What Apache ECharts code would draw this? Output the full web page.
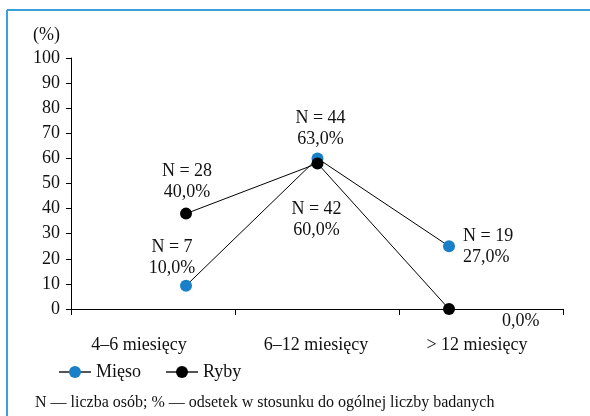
<!DOCTYPE html>
<html>
<head>
<meta charset="utf-8">
<script src="https://cdn.jsdelivr.net/npm/echarts@6/dist/echarts.min.js"></script>
<style>
html,body{margin:0;padding:0;background:#fff;}
#c{width:590px;height:416px;}
</style>
</head>
<body>
<div id="c"></div>
<script>
const categories = ['4–6 miesięcy', '6–12 miesięcy', '> 12 miesięcy'];
const yTicks = [0, 10, 20, 30, 40, 50, 60, 70, 80, 90, 100];
const miesoValues = [9.3, 60, 25];
const rybyValues = [38, 58, 0];
const miesoN = [7, 44, 19];
const miesoPct = ['10,0%', '63,0%', '27,0%'];
const rybyN = [28, 42, null];
const rybyPct = ['40,0%', '60,0%', '0,0%'];

const FONT = 'Liberation Serif';
const TXT = '#111';

function lab(n, p) { return n === null ? p : 'N = ' + n + '\n' + p; }

const miesoLabelStyles = [
  { position: 'top', distance: 1, offset: [-14, 0] },
  { position: 'top', distance: 3, offset: [3, 0] },
  { position: 'right', distance: 8, offset: [0, 1] }
];
const rybyLabelStyles = [
  { position: 'top', distance: 5, offset: [1, 0] },
  { position: 'bottom', distance: 29, offset: [-1, 0] },
  { position: 'right', distance: 5, offset: [42, 12] }
];

function build(values, ns, pcts, styles) {
  return values.map((v, i) => ({
    value: v,
    label: Object.assign({
      show: true,
      formatter: lab(ns[i], pcts[i]),
      fontFamily: FONT, fontSize: 18, lineHeight: 21, color: TXT,
      align: styles[i].position === 'right' ? 'left' : 'center'
    }, styles[i])
  }));
}

const chart = echarts.init(document.getElementById('c'), null, { renderer: 'canvas' });
chart.setOption({
  animation: false,
  backgroundColor: '#fff',
  textStyle: { fontFamily: FONT },
  grid: [
    { left: 71, right: 27, top: 58, bottom: 107 },
    { left: 186, width: 263, top: 58, bottom: 107 }
  ],
  xAxis: [
    {
      type: 'category', gridIndex: 0, data: categories, boundaryGap: true,
      axisLine: { lineStyle: { color: '#000', width: 1 } },
      axisTick: { show: true, length: 6, alignWithLabel: false, lineStyle: { color: '#000' } },
      axisLabel: {
        interval: 0, hideOverlap: false,
        margin: 27, fontFamily: FONT, fontSize: 18, color: TXT,
        formatter: function (v, i) { return ['{a|', '{b|', '{c|'][i] + v + '}'; },
        rich: {
          a: { fontFamily: FONT, fontSize: 18, color: TXT, padding: [0, 28, 0, 0] },
          b: { fontFamily: FONT, fontSize: 18, color: TXT, padding: [0, 2, 0, 0] },
          c: { fontFamily: FONT, fontSize: 18, color: TXT, padding: [0, 8, 0, 0] }
        }
      },
      splitLine: { show: false }
    },
    {
      type: 'category', gridIndex: 1, data: categories, boundaryGap: false, show: false
    }
  ],
  yAxis: [
    {
      type: 'value', gridIndex: 0, min: yTicks[0], max: yTicks[yTicks.length - 1], interval: 10,
      axisLine: { show: true, lineStyle: { color: '#000', width: 1 } },
      axisTick: { show: true, length: 5, lineStyle: { color: '#000' } },
      axisLabel: { margin: 11, fontFamily: FONT, fontSize: 18, color: TXT },
      splitLine: { show: false }
    },
    {
      type: 'value', gridIndex: 1, min: 0, max: 100, show: false, splitLine: { show: false }
    }
  ],
  legend: {
    left: 53, top: 358, itemWidth: 32, itemHeight: 15, itemGap: 24,
    textStyle: { fontFamily: FONT, fontSize: 18, color: TXT },
    lineStyle: { color: '#555', width: 2 },
    data: ['Mięso', 'Ryby']
  },
  series: [
    {
      name: 'Mięso', type: 'line', xAxisIndex: 1, yAxisIndex: 1,
      data: build(miesoValues, miesoN, miesoPct, miesoLabelStyles),
      symbol: 'circle', symbolSize: 12,
      itemStyle: { color: '#1a80c8' },
      lineStyle: { color: '#000', width: 1 },
      z: 2
    },
    {
      name: 'Ryby', type: 'line', xAxisIndex: 1, yAxisIndex: 1,
      data: build(rybyValues, rybyN, rybyPct, rybyLabelStyles),
      symbol: 'circle', symbolSize: 12,
      itemStyle: { color: '#000' },
      lineStyle: { color: '#000', width: 1 },
      z: 3
    }
  ],
  graphic: [
    { type: 'line', shape: { x1: 7, y1: 10, x2: 590, y2: 10 }, style: { stroke: '#3d9fd9', lineWidth: 2 } },
    { type: 'line', shape: { x1: 7, y1: 10, x2: 7, y2: 416 }, style: { stroke: '#3d9fd9', lineWidth: 2 } },
    { type: 'text', left: 33, top: 26, style: { text: '(%)', fontFamily: FONT, fontSize: 18, fill: TXT } },
    { type: 'text', left: 35, top: 395, style: { text: 'N — liczba osób; % — odsetek w stosunku do ogólnej liczby badanych', fontFamily: FONT, fontSize: 16, fill: TXT } }
  ]
});
</script>
</body>
</html>
